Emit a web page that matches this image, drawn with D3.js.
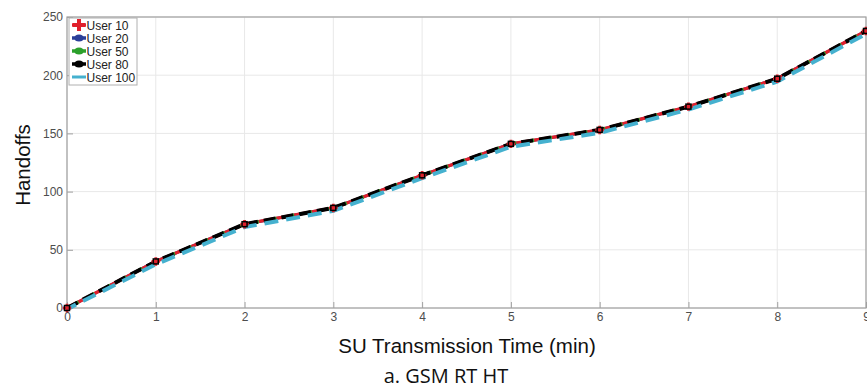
<!DOCTYPE html>
<html><head><meta charset="utf-8">
<script src="https://cdn.jsdelivr.net/npm/d3@7"></script>
<style>body{margin:0;background:#fff;} svg{display:block;}</style>
</head><body>
<svg id="c" width="867" height="391"></svg>
<script>
const times = [0,1,2,3,4,5,6,7,8,9];
const user10 = [0,40,72,86,114,141,153,173,197,238];
const user20 = [0,40,72,86,114,141,153,173,197,238];
const user50 = [0,40,72,86,114,141,153,173,197,238];
const user80 = [0,40,72,86,114,141,153,173,197,238];
const user100 = [-1,37.5,69.5,83.5,111.5,138.5,150.5,170.5,194.5,235.5];
const xTicks = [0,1,2,3,4,5,6,7,8,9];
const yTicks = [0,50,100,150,200,250];
const seriesNames = ["User 10","User 20","User 50","User 80","User 100"];

const svg = d3.select("#c");
const x = d3.scaleLinear().domain([0,9]).range([67,866]);
const y = d3.scaleLinear().domain([0,250]).range([308,17]);
const F = "Liberation Sans, Arial, sans-serif";

// grid
svg.append("g").selectAll("line").data(xTicks).join("line")
  .attr("x1",d=>x(d)).attr("x2",d=>x(d)).attr("y1",y(0)).attr("y2",y(250))
  .attr("stroke","#e8e8e8").attr("stroke-width",1);
svg.append("g").selectAll("line").data(yTicks).join("line")
  .attr("x1",x(0)).attr("x2",x(9)).attr("y1",d=>y(d)).attr("y2",d=>y(d))
  .attr("stroke","#e8e8e8").attr("stroke-width",1);

// box
svg.append("rect").attr("x",x(0)).attr("y",y(250)).attr("width",x(9)-x(0)).attr("height",y(0)-y(250))
  .attr("fill","none").attr("stroke","#a0a0a0").attr("stroke-width",1.2);

// axes
const xAxis = d3.axisBottom(x).tickValues(xTicks).tickSize(-6).tickPadding(4).tickFormat(d3.format("d"));
const gx = svg.append("g").attr("transform",`translate(0,${y(0)})`).call(xAxis);
gx.select(".domain").remove();
gx.selectAll("line").attr("stroke","#a0a0a0");
gx.selectAll("text").attr("fill","#4d4d4d").attr("font-family",F).attr("font-size",12);

const yAxis = d3.axisLeft(y).tickValues(yTicks).tickSize(-6).tickPadding(4);
const gy = svg.append("g").attr("transform",`translate(${x(0)},0)`).call(yAxis);
gy.select(".domain").remove();
gy.selectAll("line").attr("stroke","#a0a0a0");
gy.selectAll("text").attr("fill","#4d4d4d").attr("font-family",F).attr("font-size",12);

const line = d3.line().x((d,i)=>x(times[i])).y(d=>y(d));

const plotG = svg.append("g");
plotG.append("path").attr("d",line(user20)).attr("fill","none").attr("stroke","#2b3f99").attr("stroke-width",3);
plotG.append("path").attr("d",line(user10)).attr("fill","none").attr("stroke","#e0202c").attr("stroke-width",3.2);
plotG.append("path").attr("d",line(user50)).attr("fill","none").attr("stroke","#2ca02c").attr("stroke-width",3.4)
  .attr("stroke-dasharray","4,14").attr("stroke-dashoffset",-9);
plotG.append("path").attr("d",line(user80)).attr("fill","none").attr("stroke","#000").attr("stroke-width",4)
  .attr("stroke-dasharray","12,6");
plotG.append("path").attr("d",line(user100)).attr("fill","none").attr("stroke","#45b1cf").attr("stroke-width",4)
  .attr("stroke-dasharray","14,8").attr("stroke-dashoffset",4);

// markers
const sym = d3.symbol().type(d3.symbolCross).size(40);
plotG.append("g").selectAll("path").data(user10).join("path")
  .attr("transform",(d,i)=>`translate(${x(times[i])},${y(d)})`).attr("d",sym).attr("fill","#e0202c");
plotG.append("g").selectAll("rect").data(user80).join("rect")
  .attr("x",(d,i)=>x(times[i])-2.5).attr("y",d=>y(d)-2.5).attr("width",5).attr("height",5)
  .attr("fill","none").attr("stroke","#000").attr("stroke-width",1.5);

// legend
const lg = svg.append("g");
lg.append("rect").attr("x",69).attr("y",18).attr("width",68).attr("height",67)
  .attr("fill","#fff").attr("stroke","#b0b0b0").attr("stroke-width",1);
const lcolors = ["#e0202c","#2b3f99","#2ca02c","#000","#45b1cf"];
seriesNames.forEach((n,i)=>{
  const yy = 25 + i*13;
  if(i<4){
    lg.append("line").attr("x1",72).attr("x2",86).attr("y1",yy).attr("y2",yy).attr("stroke",lcolors[i]).attr("stroke-width",3.5);
    if(i===0) lg.append("path").attr("transform",`translate(79,${yy})`).attr("d",d3.symbol().type(d3.symbolCross).size(80)).attr("fill",lcolors[i]);
    else lg.append("ellipse").attr("cx",79).attr("cy",yy).attr("rx",4.5).attr("ry",3.5).attr("fill",lcolors[i]);
  } else {
    lg.append("line").attr("x1",72).attr("x2",86).attr("y1",yy).attr("y2",yy).attr("stroke",lcolors[i]).attr("stroke-width",3);
  }
  lg.append("text").attr("x",86.5).attr("y",yy+4.5).text(n)
    .attr("font-family",F).attr("font-size",12).attr("fill","#222");
});

// labels
svg.append("text").attr("transform","translate(30,165) rotate(-90)").attr("text-anchor","middle")
  .attr("font-family",F).attr("font-size",20.5).attr("fill","#111").text("Handoffs");
svg.append("text").attr("x",467).attr("y",353).attr("text-anchor","middle")
  .attr("font-family",F).attr("font-size",20.5).attr("fill","#111").text("SU Transmission Time (min)");
svg.append("text").attr("x",446).attr("y",383).attr("text-anchor","middle")
  .attr("font-family","Open Sans, Noto Sans, sans-serif").attr("font-size",20).attr("fill","#111").text("a. GSM RT HT");
</script>
</body></html>
